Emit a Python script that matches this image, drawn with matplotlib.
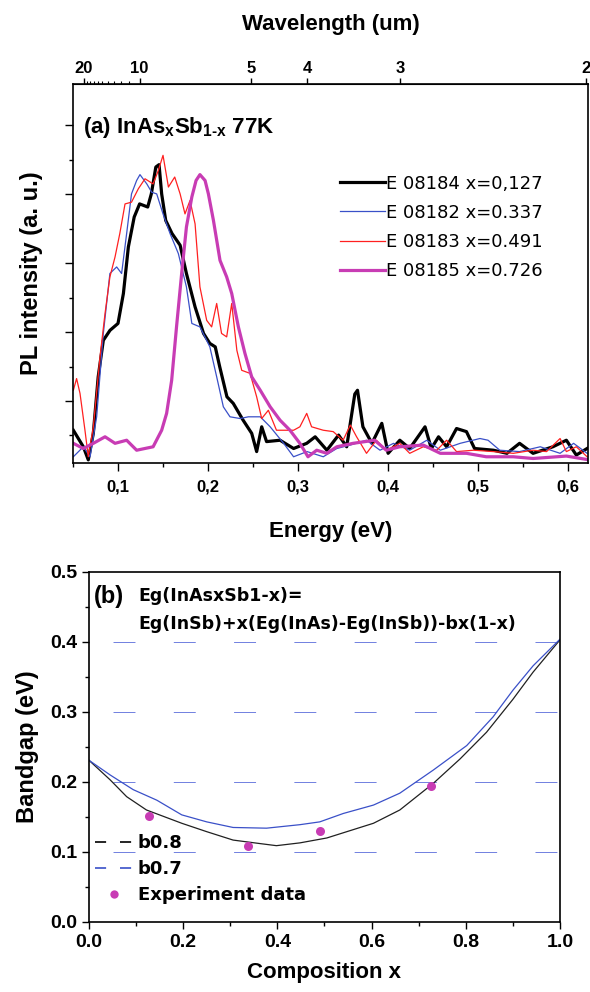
import matplotlib
matplotlib.use("Agg")
import matplotlib.pyplot as plt
from matplotlib.lines import Line2D
from matplotlib.ticker import MultipleLocator, FixedLocator, FuncFormatter, NullFormatter

plt.rcParams['font.family'] = ['Liberation Sans', 'DejaVu Sans']
plt.rcParams['font.weight'] = 'bold'
plt.rcParams['mathtext.fontset'] = 'custom'
plt.rcParams['mathtext.bf'] = 'Liberation Sans:bold'
plt.rcParams['mathtext.rm'] = 'Liberation Sans:bold'
plt.rcParams['lines.scale_dashes'] = False

#########################################################################
# data

# (a) PL spectra, energy in eV, intensity in arbitrary units
e_184 = [0.0504, 0.0615, 0.067, 0.0726, 0.078, 0.0837, 0.0911, 0.100, 0.106, 0.1115,
         0.118, 0.124, 0.133, 0.137, 0.142, 0.1456, 0.1485, 0.153, 0.160, 0.169,
         0.176, 0.1856, 0.195, 0.202, 0.208, 0.213, 0.221, 0.228, 0.239, 0.2485,
         0.254, 0.2596, 0.265, 0.280, 0.295, 0.3096, 0.319, 0.332, 0.345, 0.354,
         0.363, 0.366, 0.372, 0.382, 0.393, 0.400, 0.413, 0.424, 0.441, 0.448,
         0.456, 0.465, 0.476, 0.487, 0.496, 0.517, 0.532, 0.546, 0.561, 0.583,
         0.598, 0.609, 0.621]
i_184 = [0.15, -0.33, -0.71, 0.06, 1.70, 2.76, 3.05, 3.25, 4.12, 5.47,
         6.34, 6.72, 6.63, 7.01, 7.79, 7.86, 7.01, 6.24, 5.86, 5.52,
         4.70, 3.73, 2.96, 2.67, 2.57, 1.99, 1.12, 0.93, 0.44, 0.06,
         -0.47, 0.25, -0.18, -0.14, -0.38, -0.23, -0.04, -0.43, 0.01, -0.33,
         1.20, 1.31, 0.25, -0.23, 0.35, -0.52, -0.14, -0.38, 0.25, -0.38,
         -0.04, -0.33, 0.20, 0.11, -0.38, -0.43, -0.52, -0.23, -0.52, -0.33,
         -0.14, -0.57, -0.38]

e_182 = [0.0504, 0.0615, 0.069, 0.0763, 0.0837, 0.091, 0.0985, 0.104, 0.1096, 0.115,
         0.1207, 0.1244, 0.132, 0.1374, 0.143, 0.150, 0.1578, 0.167, 0.176, 0.182,
         0.191, 0.202, 0.2096, 0.217, 0.2244, 0.2356, 0.2448, 0.258, 0.269, 0.284,
         0.295, 0.310, 0.328, 0.343, 0.358, 0.376, 0.391, 0.406, 0.424, 0.443,
         0.458, 0.480, 0.502, 0.511, 0.524, 0.546, 0.569, 0.591, 0.606, 0.621]
i_182 = [-0.62, -0.33, -0.62, 0.54, 2.96, 4.70, 4.89, 4.70, 5.86, 7.01,
         7.40, 7.57, 7.30, 7.06, 7.01, 6.43, 5.86, 5.28, 4.31, 3.25,
         3.15, 2.57, 1.70, 0.83, 0.54, 0.49, 0.54, 0.54, 0.25, -0.23,
         -0.62, -0.47, -0.62, -0.38, -0.28, -0.14, -0.43, -0.23, -0.43, -0.14,
         -0.43, -0.23, -0.09, -0.14, -0.43, -0.47, -0.33, -0.52, -0.23, -0.52]

e_183 = [0.0504, 0.054, 0.0578, 0.0633, 0.067, 0.0726, 0.080, 0.0856, 0.091, 0.0967,
         0.102, 0.1078, 0.115, 0.1226, 0.130, 0.139, 0.1448, 0.150, 0.156, 0.163,
         0.169, 0.1744, 0.180, 0.1856, 0.191, 0.1985, 0.204, 0.2096, 0.215, 0.2207,
         0.2263, 0.232, 0.2374, 0.2467, 0.254, 0.2596, 0.267, 0.276, 0.295, 0.302,
         0.3096, 0.315, 0.328, 0.339, 0.350, 0.358, 0.365, 0.376, 0.387, 0.398,
         0.413, 0.424, 0.439, 0.454, 0.465, 0.476, 0.495, 0.517, 0.539, 0.561,
         0.576, 0.591, 0.598, 0.609, 0.621]
i_183 = [1.31, 1.65, 1.22, 0.15, -0.62, 0.25, 2.28, 3.54, 4.60, 5.18,
         5.86, 6.72, 6.77, 7.16, 7.45, 7.30, 7.69, 8.13, 7.21, 7.50,
         7.01, 6.43, 6.82, 6.14, 4.31, 3.34, 3.15, 3.83, 2.96, 2.86,
         3.83, 2.47, 1.89, 1.80, 1.12, 0.49, 0.73, 0.15, 0.15, 0.25,
         0.64, 0.25, 0.15, 0.11, -0.14, 0.30, -0.04, -0.52, -0.14, -0.43,
         -0.23, -0.52, -0.33, -0.43, -0.14, -0.47, -0.43, -0.47, -0.52, -0.43,
         -0.47, -0.09, -0.47, -0.33, -0.62]

e_185 = [0.0504, 0.0615, 0.0726, 0.0856, 0.0967, 0.1096, 0.1207, 0.139, 0.1485, 0.154,
         0.1596, 0.165, 0.1707, 0.176, 0.182, 0.1867, 0.191, 0.1967, 0.2004, 0.206,
         0.2133, 0.2207, 0.2263, 0.2337, 0.241, 0.2485, 0.258, 0.269, 0.280, 0.291,
         0.302, 0.311, 0.3207, 0.332, 0.343, 0.361, 0.385, 0.398, 0.413, 0.439,
         0.458, 0.487, 0.509, 0.539, 0.561, 0.598, 0.621]
i_185 = [-0.23, -0.38, -0.23, -0.04, -0.23, -0.14, -0.43, -0.33, 0.15, 0.64,
         1.60, 3.15, 4.70, 6.05, 6.92, 7.40, 7.57, 7.40, 7.01, 6.24,
         5.08, 4.60, 4.12, 3.15, 2.38, 1.70, 1.31, 0.83, 0.44, 0.15,
         -0.23, -0.62, -0.43, -0.52, -0.33, -0.23, -0.14, -0.43, -0.33, -0.28,
         -0.52, -0.52, -0.62, -0.62, -0.67, -0.60, -0.70]

pl_labels = ["E 08184 x=0,127", "E 08182 x=0.337", "E 08183 x=0.491", "E 08185 x=0.726"]
energy_ticks = [0.1, 0.2, 0.3, 0.4, 0.5, 0.6]
wavelength_ticks = [20, 10, 5, 4, 3, 2]
wavelength_minor = [19, 18, 17, 16, 15, 14, 13, 12, 11]

# (b) bandgap vs composition
x_b08 = [0.0, 0.045, 0.08, 0.122, 0.197, 0.25, 0.306, 0.363, 0.398, 0.448,
         0.505, 0.604, 0.66, 0.731, 0.788, 0.844, 0.90, 0.943, 1.0]
eg_b08 = [0.231, 0.203, 0.179, 0.160, 0.141, 0.129, 0.117, 0.112, 0.109, 0.113,
          0.120, 0.141, 0.160, 0.198, 0.233, 0.271, 0.318, 0.357, 0.403]
x_b07 = [0.0, 0.045, 0.094, 0.144, 0.197, 0.25, 0.306, 0.377, 0.448, 0.49,
         0.54, 0.604, 0.66, 0.731, 0.802, 0.858, 0.90, 0.943, 1.0]
eg_b07 = [0.231, 0.210, 0.189, 0.174, 0.153, 0.143, 0.135, 0.134, 0.139, 0.143,
          0.155, 0.167, 0.184, 0.217, 0.252, 0.293, 0.331, 0.366, 0.404]
x_exp = [0.127, 0.337, 0.491, 0.726]
eg_exp = [0.151, 0.109, 0.130, 0.194]
grid_levels = [0.1, 0.2, 0.3, 0.4]

#########################################################################
# figure

fig = plt.figure(figsize=(5.9, 9.92), dpi=100)

black = "#000000"
blue = "#3a50c8"
red = "#ff2020"
magenta = "#c83cb4"
wide = ['DejaVu Sans']

# ---- panel (a)
ax1 = fig.add_axes([0.1237, 0.5333, 0.8729, 0.382])
ax1.plot(e_184, i_184, color=black, lw=2.3, label=pl_labels[0])
ax1.plot(e_182, i_182, color=blue, lw=0.9, label=pl_labels[1])
ax1.plot(e_183, i_183, color=red, lw=0.9, label=pl_labels[2])
ax1.plot(e_185, i_185, color=magenta, lw=2.3, label=pl_labels[3])

ax1.set_xlim(0.05, 0.622)
ax1.set_ylim(-0.8, 10.2)
ax1.xaxis.set_major_locator(FixedLocator(energy_ticks))
ax1.xaxis.set_minor_locator(MultipleLocator(0.05))
ax1.xaxis.set_major_formatter(FuncFormatter(lambda v, p: ("%.1f" % v).replace(".", ",")))
ax1.yaxis.set_major_locator(FixedLocator([1, 3, 5, 7, 9]))
ax1.yaxis.set_minor_locator(FixedLocator([0, 2, 4, 6, 8]))
ax1.yaxis.set_major_formatter(NullFormatter())
ax1.tick_params(axis='x', which='major', length=6, width=1, labelsize=12, pad=6)
ax1.tick_params(axis='x', which='minor', length=3, width=1)
ax1.tick_params(axis='y', which='major', length=6, width=1)
ax1.tick_params(axis='y', which='minor', length=3, width=1)
ax1.tick_params(top=False)
for s in ax1.spines.values():
    s.set_linewidth(1.2)

ax1.set_xlabel("Energy (eV)", fontsize=16, fontweight='bold', labelpad=19)
ax1.set_ylabel("PL intensity (a. u.)", fontsize=17, fontweight='bold', labelpad=12)

top = ax1.secondary_xaxis('top', functions=(lambda e: 1.24 / e, lambda l: 1.24 / l))
top.xaxis.set_major_locator(FixedLocator(wavelength_ticks))
top.xaxis.set_minor_locator(FixedLocator(wavelength_minor))
top.xaxis.set_major_formatter(FuncFormatter(lambda v, p: "%d" % round(v)))
top.tick_params(which='major', length=4, width=1, labelsize=12, pad=2)
top.tick_params(which='minor', length=2, width=0.8)
top.set_xlabel("Wavelength (um)", fontsize=16, fontweight='bold', labelpad=22)

ax1.text(0.02, 0.885, r"(a) InAs$_\mathbf{x}$Sb$_\mathbf{1\text{-}x}$ 77K",
         transform=ax1.transAxes, fontsize=16, fontweight='bold', va='center')

leg1 = ax1.legend(loc='upper left', bbox_to_anchor=(0.5, 0.785), frameon=False,
                  prop={'family': wide, 'weight': 'normal', 'size': 13},
                  handlelength=2.5, handletextpad=0.1, labelspacing=0.62, borderpad=0)

# ---- panel (b)
ax2 = fig.add_axes([0.1508, 0.0706, 0.7983, 0.3528])
for g in grid_levels:
    ax2.axhline(g, color="#7080e0", lw=0.7, linestyle=(26.1, (15.8, 27.6)), zorder=0)

ax2.plot(x_b08, eg_b08, color="#202020", lw=0.9)
ax2.plot(x_b07, eg_b07, color=blue, lw=0.9)
ax2.plot(x_exp, eg_exp, 'o', color=magenta, ms=6.5, mec='none')

ax2.set_xlim(0, 1)
ax2.set_ylim(0, 0.5)
ax2.xaxis.set_major_locator(MultipleLocator(0.2))
ax2.xaxis.set_minor_locator(MultipleLocator(0.1))
ax2.yaxis.set_major_locator(MultipleLocator(0.1))
ax2.yaxis.set_minor_locator(MultipleLocator(0.05))
ax2.xaxis.set_major_formatter(FuncFormatter(lambda v, p: "%.1f" % v))
ax2.yaxis.set_major_formatter(FuncFormatter(lambda v, p: "%.1f" % v))
ax2.tick_params(which='major', length=5, width=1, labelsize=14)
ax2.tick_params(which='minor', length=3, width=1)
for s in ax2.spines.values():
    s.set_linewidth(1.2)
ax2.set_xlabel("Composition x", fontsize=16, fontweight='bold', labelpad=8)
ax2.set_ylabel("Bandgap (eV)", fontsize=17, fontweight='bold', labelpad=8)

ax2.text(0.01, 0.93, "(b)", transform=ax2.transAxes, fontsize=17, fontweight='bold', va='center')
ax2.text(0.105, 0.93, "Eg(InAsxSb1-x)=", transform=ax2.transAxes, fontsize=12.5,
         family=wide, fontweight='bold', va='center')
ax2.text(0.105, 0.85, "Eg(InSb)+x(Eg(InAs)-Eg(InSb))-bx(1-x)", transform=ax2.transAxes,
         fontsize=12.5, family=wide, fontweight='bold', va='center')

handles = [Line2D([], [], color=black, lw=1.2, linestyle=(0, (8, 10))),
           Line2D([], [], color=blue, lw=1.2, linestyle=(0, (8, 10))),
           Line2D([], [], color=magenta, marker='o', ms=6, linestyle='none', mec='none')]
leg2 = ax2.legend(handles, ["b0.8", "b0.7", "Experiment data"], loc='lower left',
                  bbox_to_anchor=(0.012, 0.05), frameon=False,
                  prop={'family': wide, 'weight': 'bold', 'size': 13},
                  handlelength=2.2, handletextpad=0.2, labelspacing=0.45,
                  borderpad=0, borderaxespad=0)

fig.savefig("out.png", dpi=100)
